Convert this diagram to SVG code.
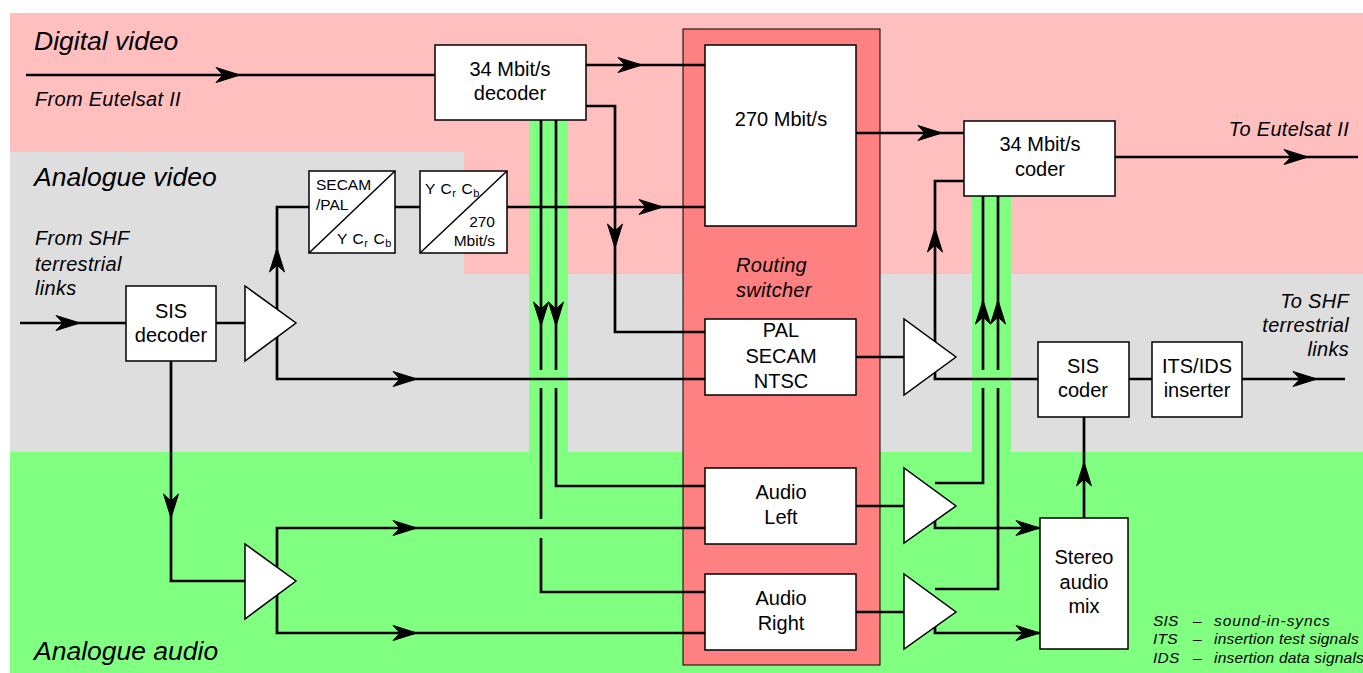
<svg xmlns="http://www.w3.org/2000/svg" width="1363" height="673" viewBox="0 0 1363 673">
<style>
text{font-family:"Liberation Sans",Arial,sans-serif;fill:#000}
.b{fill:#fff;stroke:#000;stroke-width:1.5}
.t{font-size:20px;text-anchor:middle}
.s{font-size:15.5px}
.y{font-size:15.5px;letter-spacing:.6px}
.h{font-size:26.5px;font-style:italic}
.i{font-size:20px;font-style:italic;letter-spacing:.3px}
.l{font-size:15.5px;font-style:italic;letter-spacing:.2px}
.w{fill:none;stroke:#000;stroke-width:2.7}
</style>
<defs>
<path id="ah" d="M-24,-7.5 L0,0 L-24,7.5 L-17,0 Z" fill="#000" stroke="#000" stroke-width="1" stroke-linejoin="round"/>
</defs>
<g id="background">
<rect width="1363" height="673" fill="#fff"/>
<path d="M10,13H1363V274H464V152H10Z" fill="#ffbfbf"/>
<path d="M10,152H464V274H1363V452H10Z" fill="#dedede"/>
<rect x="10" y="452" width="1353" height="221" fill="#80ff80"/>
<rect x="529" y="120" width="39" height="332" fill="#80ff80"/>
<rect x="972" y="195" width="39" height="257" fill="#80ff80"/>
</g>
<g id="routing-switcher">
<rect x="683" y="29" width="197" height="636" fill="#ff8080" stroke="#000" stroke-width="1"/>
<text class="i" x="736" y="272">Routing</text>
<text class="i" x="736" y="297">switcher</text>
</g>
<g id="connectors">
<path class="w" d="M26,75H435M586,65H705M586,106H615V332H705M395,207H420M507,207H705M20,323H126M216,323H245M277,323V207H309M277,323V379H705M171,361V581H245M277,581V528H705M277,581V633H705M541,120V370M556,120V370M541,388V519M541,538V592H705M556,388V486H705M856,133H964M1115,157H1358M964,181H935V379H1038M856,357H904M856,506H904M856,612H904M983,370V196M998,370V196M983,388V483H935M998,388V589H935M935,506V528H1040M935,612V633H1040M1084,518V417M1129,379H1152M1242,379H1345"/>
<use href="#ah" transform="translate(240,75)"/>
<use href="#ah" transform="translate(642,65)"/>
<use href="#ah" transform="translate(615,248) rotate(90)"/>
<use href="#ah" transform="translate(663,207)"/>
<use href="#ah" transform="translate(80,323)"/>
<use href="#ah" transform="translate(277,248) rotate(-90)"/>
<use href="#ah" transform="translate(417,379)"/>
<use href="#ah" transform="translate(171,518) rotate(90)"/>
<use href="#ah" transform="translate(417,528)"/>
<use href="#ah" transform="translate(417,633)"/>
<use href="#ah" transform="translate(541,326) rotate(90)"/>
<use href="#ah" transform="translate(556,326) rotate(90)"/>
<use href="#ah" transform="translate(942,133)"/>
<use href="#ah" transform="translate(1308,157)"/>
<use href="#ah" transform="translate(935,228) rotate(-90)"/>
<use href="#ah" transform="translate(983,300) rotate(-90)"/>
<use href="#ah" transform="translate(998,300) rotate(-90)"/>
<use href="#ah" transform="translate(1040,528)"/>
<use href="#ah" transform="translate(1040,633)"/>
<use href="#ah" transform="translate(1084,462) rotate(-90)"/>
<use href="#ah" transform="translate(1317,379)"/>
</g>
<g id="amp1"><polygon class="b" points="245,286 245,361 296,323"/></g>
<g id="amp2"><polygon class="b" points="245,544 245,619 296,581"/></g>
<g id="amp3"><polygon class="b" points="904,319 904,395 956,357"/></g>
<g id="amp4"><polygon class="b" points="904,468 904,543 956,506"/></g>
<g id="amp5"><polygon class="b" points="904,574 904,649 956,612"/></g>
<g id="decoder34"><rect class="b" x="435" y="45" width="151" height="75"/><text class="t" x="510" y="76">34 Mbit/s</text><text class="t" x="510" y="100">decoder</text></g>
<g id="mbit270"><rect class="b" x="705" y="45" width="151" height="181"/><text class="t" x="781" y="126">270 Mbit/s</text></g>
<g id="pal"><rect class="b" x="705" y="319" width="151" height="76"/><text class="t" x="781" y="337">PAL</text><text class="t" x="781" y="363">SECAM</text><text class="t" x="781" y="388">NTSC</text></g>
<g id="audio-left"><rect class="b" x="705" y="468" width="151" height="76"/><text class="t" x="781" y="499">Audio</text><text class="t" x="781" y="524">Left</text></g>
<g id="audio-right"><rect class="b" x="705" y="574" width="151" height="76"/><text class="t" x="781" y="605">Audio</text><text class="t" x="781" y="630">Right</text></g>
<g id="coder34"><rect class="b" x="964" y="121" width="151" height="75"/><text class="t" x="1040" y="151">34 Mbit/s</text><text class="t" x="1040" y="176">coder</text></g>
<g id="sis-decoder"><rect class="b" x="126" y="286" width="90" height="75"/><text class="t" x="171" y="318">SIS</text><text class="t" x="171" y="342">decoder</text></g>
<g id="secam-conv"><rect class="b" x="309" y="171" width="86" height="82"/><path d="M309,253L395,171" stroke="#000" stroke-width="1.5"/><text class="s" x="316" y="190">SECAM</text><text class="s" x="316" y="210">/PAL</text><text class="y" x="337" y="244">Y C<tspan font-size="11" dy="3">r</tspan><tspan dy="-3"> C</tspan><tspan font-size="11" dy="3">b</tspan></text></g>
<g id="ycrcb-conv"><rect class="b" x="420" y="171" width="87" height="82"/><path d="M420,253L507,171" stroke="#000" stroke-width="1.5"/><text class="y" x="425" y="194">Y C<tspan font-size="11" dy="3">r</tspan><tspan dy="-3"> C</tspan><tspan font-size="11" dy="3">b</tspan></text><text class="s" text-anchor="end" x="495" y="227">270</text><text class="s" text-anchor="end" x="495" y="246">Mbit/s</text></g>
<g id="sis-coder"><rect class="b" x="1038" y="342" width="91" height="75"/><text class="t" x="1083" y="373">SIS</text><text class="t" x="1083" y="397">coder</text></g>
<g id="its-ids"><rect class="b" x="1152" y="342" width="90" height="75"/><text class="t" x="1197" y="373">ITS/IDS</text><text class="t" x="1197" y="397">inserter</text></g>
<g id="stereo"><rect class="b" x="1040" y="518" width="88" height="131"/><text class="t" x="1084" y="564">Stereo</text><text class="t" x="1084" y="589">audio</text><text class="t" x="1084" y="613">mix</text></g>
<g id="labels">
<text class="h" x="34" y="50">Digital video</text>
<text class="h" x="34" y="186">Analogue video</text>
<text class="h" x="34" y="660">Analogue audio</text>
<text class="i" x="35" y="106">From Eutelsat II</text>
<text class="i" x="35" y="245">From SHF</text>
<text class="i" x="35" y="271">terrestrial</text>
<text class="i" x="35" y="295">links</text>
<text class="i" text-anchor="end" x="1349" y="136">To Eutelsat II</text>
<text class="i" text-anchor="end" x="1349" y="308">To SHF</text>
<text class="i" text-anchor="end" x="1349" y="332">terrestrial</text>
<text class="i" text-anchor="end" x="1349" y="356">links</text>
<text class="l" x="1153" y="626">SIS</text><text class="l" x="1193" y="626">–</text><text class="l" x="1214" y="626" textLength="116">sound-in-syncs</text>
<text class="l" x="1153" y="644">ITS</text><text class="l" x="1193" y="644">–</text><text class="l" x="1214" y="644">insertion test signals</text>
<text class="l" x="1153" y="663">IDS</text><text class="l" x="1193" y="663">–</text><text class="l" x="1214" y="663">insertion data signals</text>
</g>
</svg>
